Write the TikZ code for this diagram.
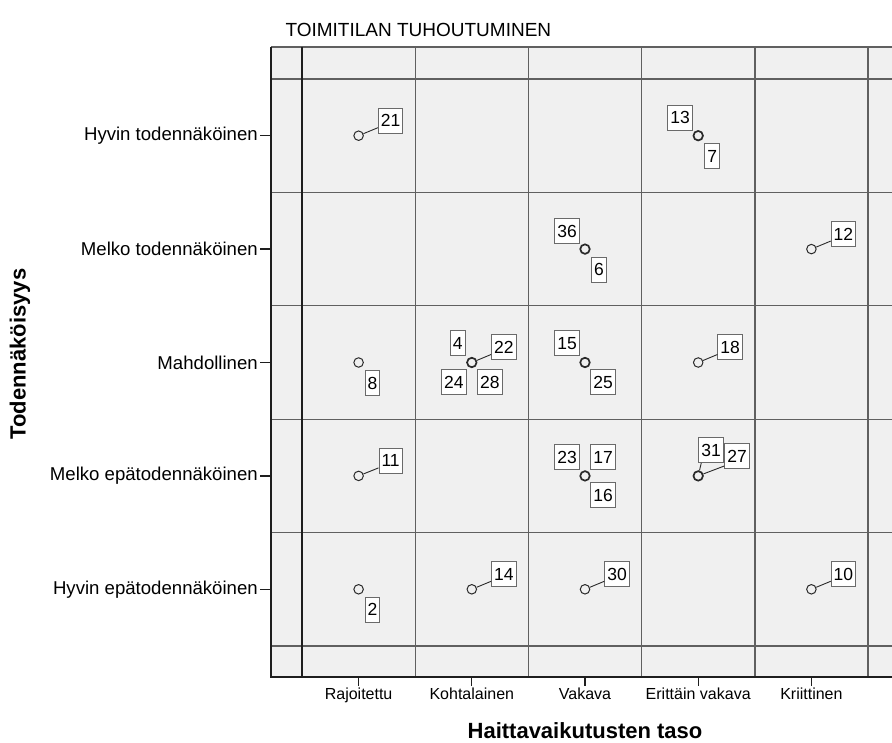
\documentclass[tikz,border=0pt]{standalone}
\usepackage{fontspec}
\setmainfont{Liberation Sans}
\definecolor{plotbg}{HTML}{F0F0F0}
\definecolor{gridln}{HTML}{606060}
\definecolor{frameln}{HTML}{1E1E1E}
\definecolor{boxline}{HTML}{6A6A6A}
\definecolor{ptline}{HTML}{2A2A2A}
\begin{document}
\begin{tikzpicture}[x=1pt,y=-1pt,
  pt/.style={circle,draw=ptline,line width=1pt,minimum size=9.5pt,inner sep=0pt},
  ptm/.style={pt,line width=1.7pt},
  lbl/.style={draw=boxline,line width=1pt,fill=white,
    font=\fontsize{17.5}{18}\selectfont,minimum height=25pt,
    inner xsep=2.5pt,inner ysep=0pt},
  lead/.style={draw=ptline,line width=0.9pt},
  gline/.style={draw=gridln,line width=1.4pt},
  fline/.style={draw=frameln,line width=1.4pt},
  ylab/.style={anchor=east,inner sep=2pt,font=\fontsize{18.6}{20}\selectfont},
  xlab/.style={anchor=north,font=\fontsize{16}{18}\selectfont},
  axtitle/.style={font=\bfseries\fontsize{22}{24}\selectfont}]
\useasboundingbox (0,0) rectangle (892,743);

% title
\node[anchor=west,font=\fontsize{19}{22}\selectfont] (title) at (282,30) {TOIMITILAN TUHOUTUMINEN};

% plot area and grid
\begin{scope}
\clip (0,0) rectangle (892,743);
\fill[plotbg] (271,47) rectangle (900,677);
\foreach \y in {79,192.4,305.8,419.2,532.6,646}
  \draw[gline] (271,\y) -- (900,\y);
\foreach \x in {415.2,528.4,641.6,754.8,868}
  \draw[gline] (\x,47) -- (\x,677);
\draw[gline] (271,47) -- (900,47);
\draw[fline] (302,47) -- (302,677);
\draw[fline] (271,47) -- (271,677) -- (900,677);
\end{scope}

% y axis categories
\foreach \y/\t in {135.7/Hyvin todennäköinen,249.1/Melko todennäköinen,
  362.5/Mahdollinen,475.9/Melko epätodennäköinen,589.3/Hyvin epätodennäköinen}{
  \draw[fline,line width=1.2pt] (260,\y) -- (271,\y);
  \node[ylab] at (260,\y) {\t};
}
% x axis categories
\foreach \x/\t in {358.6/Rajoitettu,471.8/Kohtalainen,585/Vakava,
  698.2/Erittäin vakava,811.4/Kriittinen}{
  \draw[fline,line width=1.2pt] (\x,677) -- (\x,686);
  \node[xlab] at (\x,684) {\t};
}

% axis titles
\node[axtitle,rotate=90] (ytitle) at (20,354) {Todennäköisyys};
\node[axtitle] (xtitle) at (585,731) {Haittavaikutusten taso};

% data points
\node[pt]  (p21) at (358.6,135.7) {};
\node[ptm] (p13) at (698.2,135.7) {};
\node[ptm] (p36) at (585,249.1) {};
\node[pt]  (p12) at (811.4,249.1) {};
\node[pt]  (p8)  at (358.6,362.5) {};
\node[ptm] (p4)  at (471.8,362.5) {};
\node[ptm] (p15) at (585,362.5) {};
\node[pt]  (p18) at (698.2,362.5) {};
\node[pt]  (p11) at (358.6,475.9) {};
\node[ptm] (p23) at (585,475.9) {};
\node[ptm] (p31) at (698.2,475.9) {};
\node[pt]  (p2)  at (358.6,589.3) {};
\node[pt]  (p14) at (471.8,589.3) {};
\node[pt]  (p30) at (585,589.3) {};
\node[pt]  (p10) at (811.4,589.3) {};

% case labels
\node[lbl] (l21) at (390.6,120.7) {21};
\node[lbl] (l13) at (680.2,117.7) {13};
\node[lbl] (l7)  at (712.2,156.2) {7};
\node[lbl] (l36) at (567,231.1) {36};
\node[lbl] (l6)  at (599,269.6) {6};
\node[lbl] (l12) at (843.4,234.1) {12};
\node[lbl] (l8)  at (372.6,383) {8};
\node[lbl] (l4)  at (457.8,343.5) {4};
\node[lbl] (l22) at (503.8,347.5) {22};
\node[lbl] (l24) at (453.8,382.5) {24};
\node[lbl] (l28) at (489.8,382.5) {28};
\node[lbl] (l15) at (567,343.5) {15};
\node[lbl] (l25) at (603,382.5) {25};
\node[lbl] (l18) at (730.2,347.5) {18};
\node[lbl] (l11) at (390.6,460.9) {11};
\node[lbl] (l23) at (567,457) {23};
\node[lbl] (l17) at (603,457) {17};
\node[lbl] (l16) at (603,495) {16};
\node[lbl] (l31) at (711,450) {31};
\node[lbl] (l27) at (737,456) {27};
\node[lbl] (l2)  at (372.6,609.8) {2};
\node[lbl] (l14) at (503.8,574.3) {14};
\node[lbl] (l30) at (617,574.3) {30};
\node[lbl] (l10) at (843.4,574.3) {10};

% leader lines
\draw[lead] (p21) -- ([yshift=6pt]l21.south west);
\draw[lead] (p12) -- ([yshift=6pt]l12.south west);
\draw[lead] (p4)  -- ([yshift=6pt]l22.south west);
\draw[lead] (p18) -- ([yshift=6pt]l18.south west);
\draw[lead] (p11) -- ([yshift=6pt]l11.south west);
\draw[lead] (p31) -- ([xshift=3pt]l31.south west);
\draw[lead] (p31) -- ([yshift=3pt]l27.south west);
\draw[lead] (p14) -- ([yshift=6pt]l14.south west);
\draw[lead] (p30) -- ([yshift=6pt]l30.south west);
\draw[lead] (p10) -- ([yshift=6pt]l10.south west);
\end{tikzpicture}
\end{document}
